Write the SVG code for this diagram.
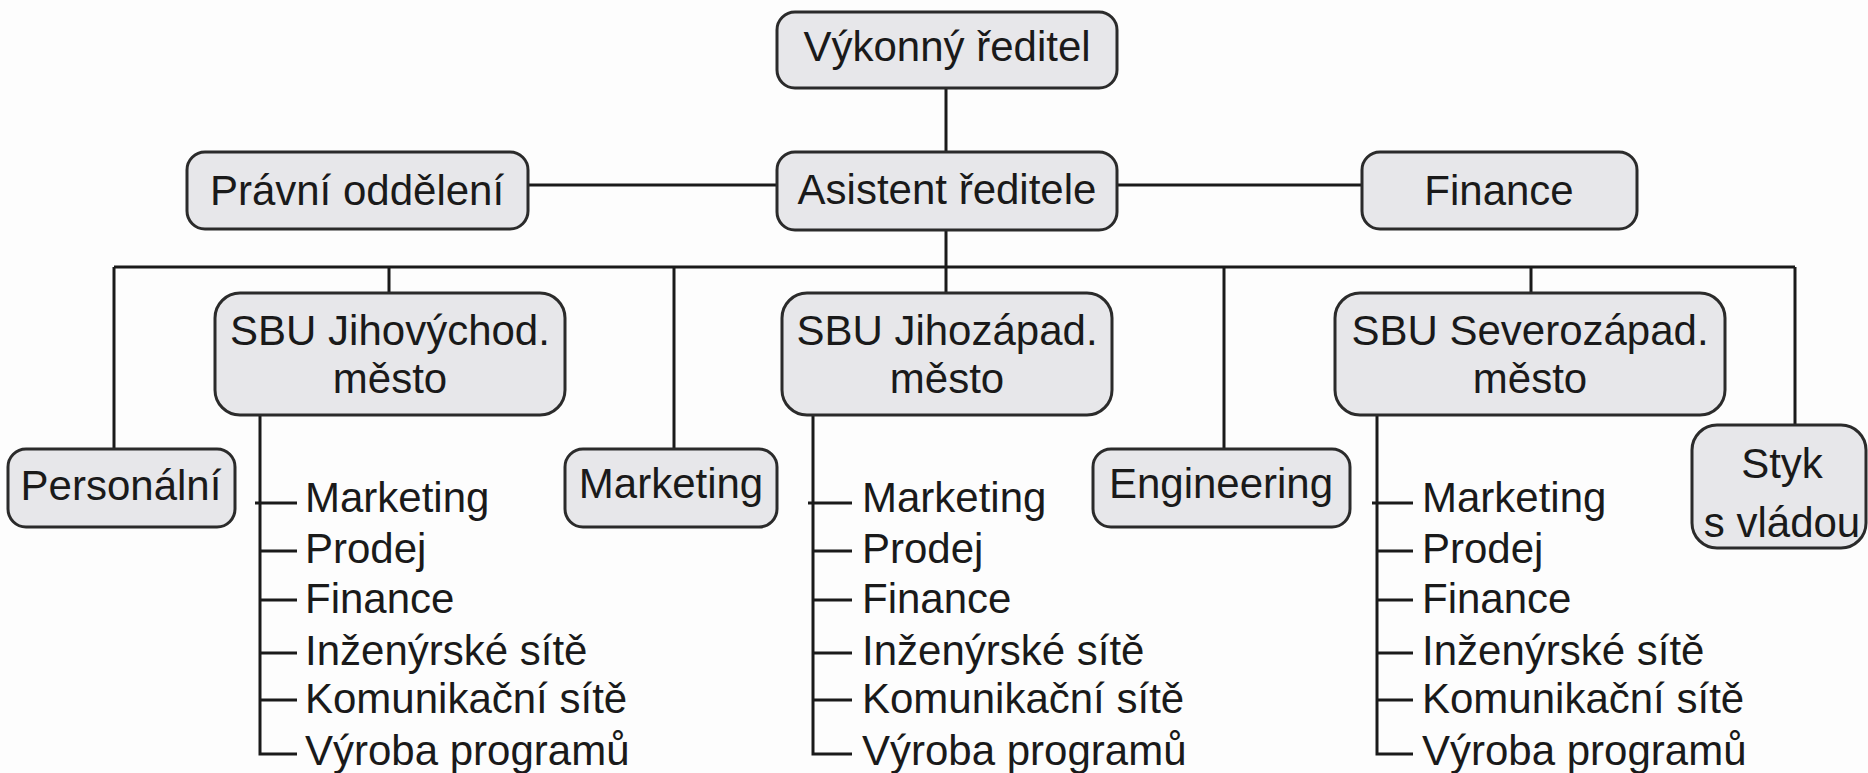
<svg xmlns="http://www.w3.org/2000/svg" width="1868" height="773" viewBox="0 0 1868 773">
<style>
.box{fill:#e7e7ea;stroke:#2b2b2b;stroke-width:3}
.t{font-family:"Liberation Sans",Arial,sans-serif;font-size:42px;fill:#1a1a1a;text-anchor:middle}
.l{font-family:"Liberation Sans",Arial,sans-serif;font-size:42px;fill:#1a1a1a}
.c{stroke:#1a1a1a;stroke-width:3;fill:none}
</style>
<rect width="1868" height="773" fill="#fdfdfd"/>
<g id="connectors">
<path class="c" d="M946 88V152M528 185H777M1117 185H1362M946 230V293M114 267H1795M114 267V449M389 267V293M674 267V449M1224 267V449M1531 267V293M1795 267V425"/>
<path class="c" d="M260 415V754H297M255 503H297M260 551H297M260 600H297M260 653H297M260 700H297"/>
<path class="c" d="M813 415V754H852M808 503H852M813 551H852M813 600H852M813 653H852M813 700H852"/>
<path class="c" d="M1377 415V754H1413M1372 503H1413M1377 551H1413M1377 600H1413M1377 653H1413M1377 700H1413"/>
</g>
<g id="vykonny"><rect class="box" x="777" y="12" width="340" height="76" rx="18"/><text class="t" x="947" y="61">Výkonný ředitel</text></g>
<g id="asistent"><rect class="box" x="777" y="152" width="340" height="78" rx="18"/><text class="t" x="947" y="204">Asistent ředitele</text></g>
<g id="pravni"><rect class="box" x="187" y="152" width="341" height="77" rx="18"/><text class="t" x="357" y="205">Právní oddělení</text></g>
<g id="finance"><rect class="box" x="1362" y="152" width="275" height="77" rx="18"/><text class="t" x="1499" y="205">Finance</text></g>
<g id="sbu-jv"><rect class="box" x="215" y="293" width="350" height="122" rx="25"/><text class="t" x="390" y="345">SBU Jihovýchod.</text><text class="t" x="390" y="393">město</text></g>
<g id="sbu-jz"><rect class="box" x="782" y="293" width="330" height="122" rx="25"/><text class="t" x="947" y="345">SBU Jihozápad.</text><text class="t" x="947" y="393">město</text></g>
<g id="sbu-sz"><rect class="box" x="1335" y="293" width="390" height="122" rx="25"/><text class="t" x="1530" y="345">SBU Severozápad.</text><text class="t" x="1530" y="393">město</text></g>
<g id="personalni"><rect class="box" x="8" y="449" width="227" height="78" rx="18"/><text class="t" x="121" y="500">Personální</text></g>
<g id="marketing"><rect class="box" x="565" y="449" width="212" height="78" rx="18"/><text class="t" x="671" y="498">Marketing</text></g>
<g id="engineering"><rect class="box" x="1093" y="449" width="257" height="78" rx="18"/><text class="t" x="1221" y="498">Engineering</text></g>
<g id="styk"><rect class="box" x="1692" y="425" width="174" height="123" rx="25"/><text class="t" x="1782" y="478">Styk</text><text class="t" x="1782" y="537">s vládou</text></g>
<g id="list-jv" class="l">
<text x="305" y="512">Marketing</text><text x="305" y="563">Prodej</text><text x="305" y="613">Finance</text><text x="305" y="665">Inženýrské sítě</text><text x="305" y="713">Komunikační sítě</text><text x="305" y="765">Výroba programů</text>
</g>
<g id="list-jz" class="l">
<text x="862" y="512">Marketing</text><text x="862" y="563">Prodej</text><text x="862" y="613">Finance</text><text x="862" y="665">Inženýrské sítě</text><text x="862" y="713">Komunikační sítě</text><text x="862" y="765">Výroba programů</text>
</g>
<g id="list-sz" class="l">
<text x="1422" y="512">Marketing</text><text x="1422" y="563">Prodej</text><text x="1422" y="613">Finance</text><text x="1422" y="665">Inženýrské sítě</text><text x="1422" y="713">Komunikační sítě</text><text x="1422" y="765">Výroba programů</text>
</g>
</svg>
